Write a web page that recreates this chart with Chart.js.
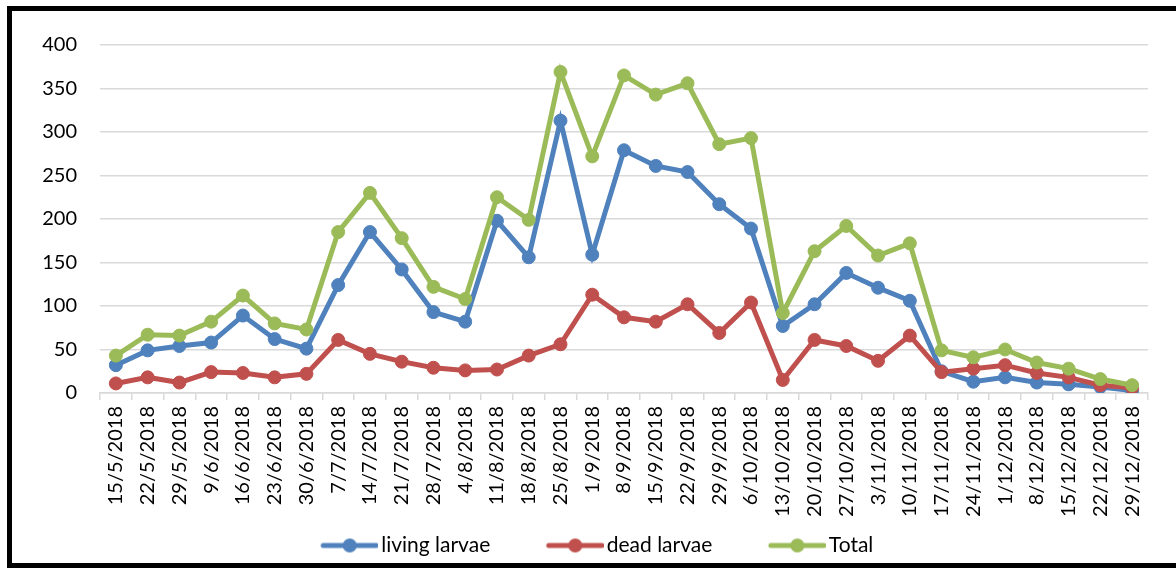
<!DOCTYPE html>
<html>
<head>
<meta charset="utf-8">
<script src="https://cdn.jsdelivr.net/npm/chart.js@4/dist/chart.umd.min.js"></script>
<style>
   body { margin:0; background:#fff; overflow:hidden; }
   #frame { position:absolute; left:7px; top:6px; width:1300px; height:562px; border:5px solid #000; box-sizing:border-box; }
   #myChart { position:absolute; left:0; top:0; }
</style>
</head>
<body>
<div id="frame"></div>
<canvas id="myChart" width="1176" height="568"></canvas>
<script>
//weekly sampling dates
var weeks = ['15/5/2018','22/5/2018','29/5/2018','9/6/2018','16/6/2018','23/6/2018','30/6/2018','7/7/2018',
   '14/7/2018','21/7/2018','28/7/2018','4/8/2018','11/8/2018','18/8/2018','25/8/2018','1/9/2018','8/9/2018',
   '15/9/2018','22/9/2018','29/9/2018','6/10/2018','13/10/2018','20/10/2018','27/10/2018','3/11/2018',
   '10/11/2018','17/11/2018','24/11/2018','1/12/2018','8/12/2018','15/12/2018','22/12/2018','29/12/2018'];

var living = [32,49,54,58,89,62,51,124,185,142,93,82,198,156,313,159,279,261,254,217,189,77,102,138,121,106,25,13,18,12,10,7,3];
var dead = [11,18,12,24,23,18,22,61,45,36,29,26,27,43,56,113,87,82,102,69,104,15,61,54,37,66,24,28,32,23,18,9,6];
var total = [43,67,66,82,112,80,73,185,230,178,122,108,225,199,369,272,365,343,356,286,293,92,163,192,158,172,49,41,50,35,28,16,9];

var yTicks = [0,50,100,150,200,250,300,350,400];

var blue = '#4F81BD', red = '#C0504D', green = '#9BBB59';
var grey = '#D9D9D9';
var font = 'Lato';

//legend marker: line with a dot, left part left empty so the gap before text is small
function legendMarker(color) {
   var c = document.createElement('canvas');
   c.width = 111; c.height = 16;
   var g = c.getContext('2d');
   g.strokeStyle = color;
   g.lineWidth = 5;
   g.lineCap = 'round';
   g.beginPath();
   g.moveTo(56, 8); g.lineTo(109, 8);
   g.stroke();
   g.fillStyle = color;
   g.beginPath();
   g.arc(82.5, 8, 7, 0, Math.PI * 2);
   g.fill();
   return c;
}
var markers = [legendMarker(blue), legendMarker(red), legendMarker(green)];

function series(label, data, color, order) {
   return {
      label: label,
      data: data,
      borderColor: color,
      backgroundColor: color,
      borderWidth: 5,
      pointRadius: 6.5,
      pointHoverRadius: 6.5,
      pointBorderWidth: 1,
      pointBackgroundColor: color,
      pointBorderColor: color,
      tension: 0,
      order: order
   };
}

var ctx = document.getElementById('myChart').getContext('2d');
var chart = new Chart(ctx, {
   type: 'line',
   data: {
      labels: weeks,
      datasets: [
         series('living larvae', living, blue, 3),
         series('dead larvae', dead, red, 2),
         series('Total', total, green, 1)
      ]
   },
   options: {
      responsive: false,
      animation: false,
      layout: { padding: { top: 45, left: 0, right: 28, bottom: 2 } },
      plugins: {
         tooltip: { enabled: false },
         legend: {
            position: 'bottom',
            labels: {
               usePointStyle: true,
               pointStyleWidth: 96,
               padding: 10,
               color: '#000',
               font: { family: font, size: 21 },
               sort: function(a, b) { return a.datasetIndex - b.datasetIndex; },
               generateLabels: function(ch) {
                  var items = Chart.defaults.plugins.legend.labels.generateLabels(ch);
                  items.forEach(function(it) { it.pointStyle = markers[it.datasetIndex]; });
                  return items;
               }
            }
         }
      },
      scales: {
         x: {
            offset: true,
            grid: { offset: true, drawOnChartArea: false, drawTicks: true, tickLength: 7, color: grey, lineWidth: 1.5 },
            border: { color: grey, width: 1.5 },
            ticks: { autoSkip: false, maxRotation: 90, minRotation: 90, padding: 6, color: '#000', font: { family: font, size: 20 } },
            afterFit: function(scale) { scale.height = 132; }
         },
         y: {
            min: 0,
            max: 400,
            afterBuildTicks: function(scale) { scale.ticks = yTicks.map(function(v) { return { value: v }; }); },
            grid: { color: grey, lineWidth: 1.5, drawTicks: false },
            border: { display: false },
            ticks: { padding: 23, color: '#000', font: { family: font, size: 20 } },
            afterFit: function(scale) { scale.width = 100; }
         }
      }
   }
});
</script>
</body>
</html>
